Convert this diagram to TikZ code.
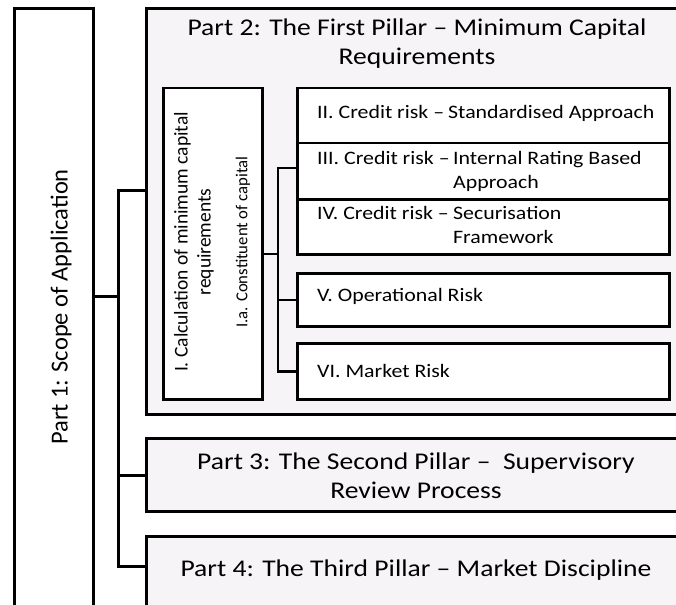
\documentclass[tikz,border=0pt]{standalone}
\usepackage{fontspec}
\setmainfont{Carlito}
\newfontfamily\wf[FakeStretch=1.15,Ligatures=TeX]{Carlito}
\newfontfamily\nf[Ligatures=TeX]{Carlito}
\definecolor{pale}{RGB}{247,244,247}
\begin{document}
\begin{tikzpicture}[x=1pt,y=-1pt,
  outerbox/.style={draw=black, line width=3pt, fill=pale, inner sep=0pt, anchor=north west},
  innerbox/.style={draw=black, line width=2.5pt, fill=white, inner sep=0pt, anchor=north west},
  conn/.style={draw=black, line width=3pt},
  iconn/.style={draw=black, line width=2.5pt},
  bigtxt/.style={font=\wf\fontsize{24}{29}\selectfont, align=center, inner sep=0pt},
  smalltxt/.style={font=\wf\fontsize{19}{24}\selectfont, align=left, anchor=west, inner sep=0pt}]
\clip (0,0) rectangle (676,604);
\fill[white] (0,0) rectangle (676,604);
% boxes
\node[outerbox, fill=white, minimum width=79pt, minimum height=633pt] (p1) at (13,7) {};
\node[outerbox, minimum width=545pt, minimum height=406pt] (p2) at (145,7) {};
\node[outerbox, minimum width=545pt, minimum height=73pt] (p3) at (145,437) {};
\node[outerbox, minimum width=545pt, minimum height=115pt] (p4) at (145,535) {};
\node[innerbox, minimum width=99pt, minimum height=311pt] (iI) at (162,87) {};
\node[innerbox, minimum width=372pt, minimum height=55pt] (b2) at (296,87) {};
\node[innerbox, minimum width=372pt, minimum height=56pt] (b3) at (296,142) {};
\node[innerbox, minimum width=372pt, minimum height=55pt] (b4) at (296,198) {};
\node[innerbox, minimum width=372pt, minimum height=53pt] (b5) at (296,272) {};
\node[innerbox, minimum width=372pt, minimum height=56pt] (b6) at (296,342) {};
% texts
\node[rotate=90, font=\nf\fontsize{24.5}{29}\selectfont, inner sep=0pt] (t1) at (61,307) {Part 1: Scope of Application};
\node[bigtxt] (t2) at (417,44) {Part 2: The First Pillar – Minimum Capital\\Requirements};
\node[bigtxt] (t3) at (416,476) {Part 3: The Second Pillar – ~Supervisory\\Review Process};
\node[bigtxt] (t4) at (416,570) {Part 4: The Third Pillar – Market Discipline};
\node[rotate=90, align=center, font=\nf\fontsize{19.5}{23}\selectfont, inner sep=0pt] (t1a) at (194,242) {I. Calculation of minimum capital\\requirements};
\node[rotate=90, font=\nf\fontsize{16.7}{20}\selectfont, inner sep=0pt] (t1b) at (243,242) {I.a. Constituent of capital};
\node[smalltxt] (tb2) at (317,113) {\makebox[131pt][l]{II. Credit risk –}Standardised Approach};
\node[smalltxt] (tb3) at (317,171) {\makebox[136pt][l]{III. Credit risk –}Internal Rating Based\\\hspace*{136pt}Approach};
\node[smalltxt] (tb4) at (317,225) {\makebox[136pt][l]{IV. Credit risk –}Securisation\\\hspace*{136pt}Framework};
\node[smalltxt] (tb5) at (317,296) {V. Operational Risk};
\node[smalltxt] (tb6) at (317,371) {VI. Market Risk};
% connectors
\coordinate (bus) at (118,296);
\coordinate (j2) at (118,190);
\coordinate (j4) at (118,566);
\draw[conn] (p1.east |- bus) -- (bus);
\draw[conn] (p2.west |- j2) -- (j2) -- (j4) -- (p4.west |- j4);
\draw[conn] (p3.west -| bus) -- (p3.west);
\coordinate (ibus) at (278,254);
\coordinate (k1) at (278,168);
\draw[iconn] (iI.east |- ibus) -- (ibus);
\draw[iconn] (b3.west |- k1) -- (k1) -- (b6.west -| k1) -- (b6.west);
\draw[iconn] (b5.west -| k1) -- (b5.west);
\end{tikzpicture}
\end{document}
